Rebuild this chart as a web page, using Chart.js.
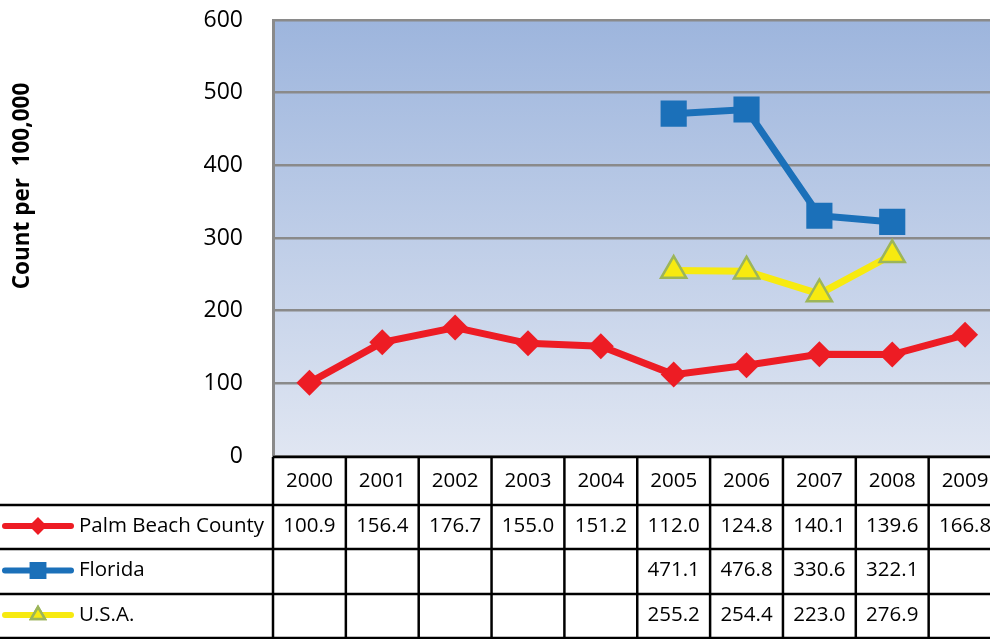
<!DOCTYPE html>
<html>
<head>
<meta charset="utf-8">
<script src="https://cdn.jsdelivr.net/npm/chart.js@4.4.1/dist/chart.umd.min.js"></script>
<style>
  html, body { margin: 0; padding: 0; background: #fff; overflow: hidden; }
  canvas { display: block; }
</style>
</head>
<body>
<canvas id="rateChart" width="1020" height="639"></canvas>
<script>
// values
const years = ['2000', '2001', '2002', '2003', '2004', '2005', '2006', '2007', '2008', '2009'];
const palmBeach = [100.9, 156.4, 176.7, 155.0, 151.2, 112.0, 124.8, 140.1, 139.6, 166.8];
const florida = [null, null, null, null, null, 471.1, 476.8, 330.6, 322.1, null];
const usa = [null, null, null, null, null, 255.2, 254.4, 223.0, 276.9, null];
const yTicks = [0, 100, 200, 300, 400, 500, 600];
const seriesNames = ['Palm Beach County', 'Florida', 'U.S.A.'];
const yTitle = 'Count per  100,000';

const FONT = "'Open Sans', 'DejaVu Sans', sans-serif";

const series = [
    { label: seriesNames[0], data: palmBeach, color: '#ED1C24', border: '#ED1C24', style: 'rectRot', radius: 13 },
    { label: seriesNames[1], data: florida, color: '#1B70B9', border: '#1B70B9', style: 'rect', radius: 18.5 },
    { label: seriesNames[2], data: usa, color: '#F7EA10', border: '#9CB55A', style: 'triangle', radius: 14.5 }
];

// background gradient + data table + rotated axis title
const tablePlugin = {
    id: 'dataTable',
    beforeDraw(chart) {
        const ctx = chart.ctx, a = chart.chartArea;
        const g = ctx.createLinearGradient(0, a.top, 0, a.bottom);
        g.addColorStop(0, '#9DB5DD');
        g.addColorStop(1, '#E0E6F2');
        ctx.save();
        ctx.fillStyle = g;
        ctx.fillRect(a.left, a.top, a.right - a.left, a.bottom - a.top);
        ctx.restore();
    },
    afterDraw(chart) {
        const ctx = chart.ctx, a = chart.chartArea, xs = chart.scales.x;
        const half = (xs.getPixelForValue(1) - xs.getPixelForValue(0)) / 2;
        const top = a.bottom + 1;
        const rows = [top, top + 48, top + 92, top + 137, top + 181];

        ctx.save();
        ctx.strokeStyle = '#000';
        ctx.lineWidth = 2.5;
        // header top line
        ctx.beginPath();
        ctx.moveTo(a.left, rows[0]);
        ctx.lineTo(chart.width, rows[0]);
        ctx.stroke();
        // other row lines span full width
        for (let r = 1; r < rows.length; r++) {
            ctx.beginPath();
            ctx.moveTo(0, rows[r]);
            ctx.lineTo(chart.width, rows[r]);
            ctx.stroke();
        }
        // column lines
        for (let i = 0; i <= years.length; i++) {
            const cx = xs.getPixelForValue(0) - half + i * half * 2;
            ctx.beginPath();
            ctx.moveTo(cx, rows[0]);
            ctx.lineTo(cx, rows[4]);
            ctx.stroke();
        }

        ctx.fillStyle = '#000';
        ctx.font = '20.5px ' + FONT;
        ctx.textBaseline = 'middle';
        ctx.textAlign = 'center';
        years.forEach((yr, i) => {
            ctx.fillText(yr, xs.getPixelForValue(i), (rows[0] + rows[1]) / 2);
        });
        series.forEach((s, r) => {
            const cy = (rows[r + 1] + rows[r + 2]) / 2 - 1;
            s.data.forEach((v, i) => {
                if (v !== null) ctx.fillText(v.toFixed(1), xs.getPixelForValue(i), cy);
            });
            // legend key: line + marker
            ctx.strokeStyle = s.color;
            ctx.lineWidth = 6;
            ctx.lineCap = 'round';
            ctx.beginPath();
            ctx.moveTo(5, cy);
            ctx.lineTo(71, cy);
            ctx.stroke();
            ctx.fillStyle = s.color;
            ctx.strokeStyle = s.border;
            ctx.lineWidth = 2.5;
            Chart.helpers.drawPoint(ctx, { pointStyle: s.style, radius: s.radius * 0.55, rotation: 0, borderWidth: 2.5 }, 38, cy);
            ctx.fill();
            if (s.style === 'triangle') ctx.stroke();
            ctx.fillStyle = '#000';
            ctx.textAlign = 'left';
            ctx.fillText(s.label, 79, cy);
            ctx.textAlign = 'center';
        });

        // y axis title
        ctx.translate(23, 186);
        ctx.rotate(-Math.PI / 2);
        ctx.font = 'bold 22.5px ' + FONT;
        ctx.fillText(yTitle, 0, 0);
        ctx.restore();
    }
};

const config = {
    type: 'line',
    data: {
        labels: years,
        datasets: series.map(s => ({
            label: s.label,
            data: s.data,
            borderColor: s.color,
            backgroundColor: s.color,
            borderWidth: 7,
            pointStyle: s.style,
            pointRadius: s.radius,
            pointBackgroundColor: s.color,
            pointBorderColor: s.border,
            pointBorderWidth: s.style === 'triangle' ? 2.5 : 0,
            tension: 0,
            spanGaps: false
        }))
    },
    options: {
        responsive: false,
        animation: false,
        layout: { padding: { top: 20, bottom: 183, left: 0, right: 7 } },
        plugins: {
            legend: { display: false },
            tooltip: { enabled: false },
            title: { display: false }
        },
        scales: {
            x: {
                display: false,
                offset: true
            },
            y: {
                min: 0,
                max: 600,
                afterFit(scale) { scale.width = 273; },
                afterBuildTicks(scale) { scale.ticks = yTicks.map(v => ({ value: v })); },
                grid: { color: '#8A8A8A', lineWidth: 2.5, drawTicks: true, tickLength: 30, tickColor: 'rgba(0,0,0,0)' },
                border: { color: '#8A8A8A', width: 3 },
                ticks: {
                    padding: 0,
                    color: '#000',
                    font: { family: FONT, size: 23 }
                }
            }
        }
    },
    plugins: [tablePlugin]
};

new Chart(document.getElementById('rateChart'), config);
</script>
</body>
</html>
